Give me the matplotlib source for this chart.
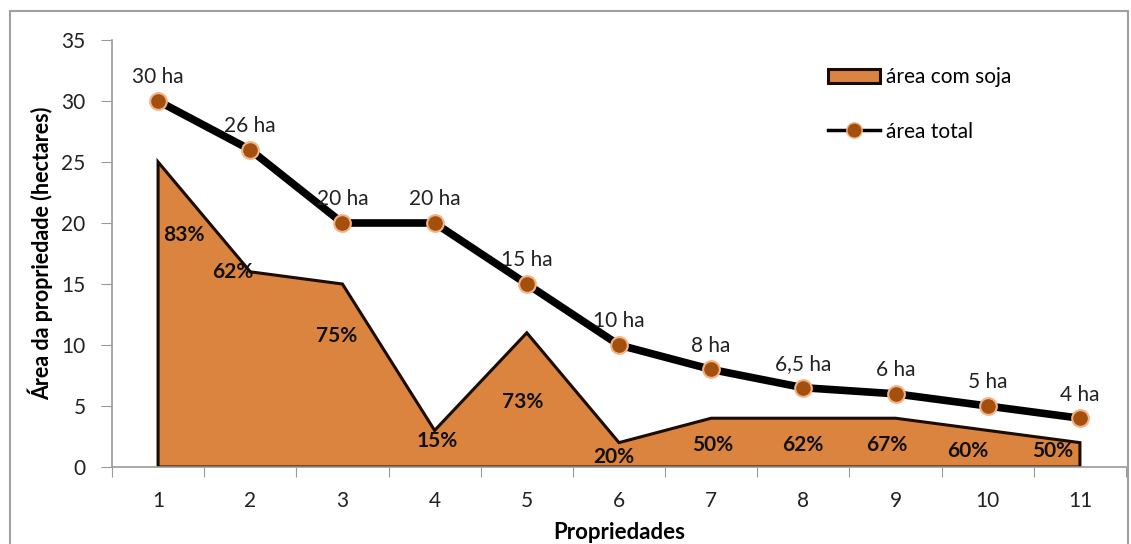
import matplotlib
matplotlib.use("Agg")
import matplotlib.pyplot as plt
from matplotlib.patches import Rectangle, Patch
from matplotlib.lines import Line2D

plt.rcParams['font.family'] = ['Lato', 'DejaVu Sans']

propriedades = [1, 2, 3, 4, 5, 6, 7, 8, 9, 10, 11]
area_total = [30, 26, 20, 20, 15, 10, 8, 6.5, 6, 5, 4]
area_soja = [25, 16, 15, 3, 11, 2, 4, 4, 4, 3, 2]
rotulos_total = ["30 ha", "26 ha", "20 ha", "20 ha", "15 ha", "10 ha", "8 ha",
                 "6,5 ha", "6 ha", "5 ha", "4 ha"]
rotulos_pct = ["83%", "62%", "75%", "15%", "73%", "20%", "50%", "62%", "67%", "60%", "50%"]
# onde o Excel colocou os rotulos de porcentagem
pct_x = [1.28, 1.81, 2.94, 4.03, 4.96, 5.94, 7.02, 7.99, 8.9, 9.78, 10.7]
pct_y = [19, 16, 10.7, 2.1, 5.3, 0.8, 1.8, 1.8, 1.8, 1.3, 1.3]

laranja = '#DA843F'
fs = 15

fig = plt.figure(figsize=(11.31, 5.44), dpi=100)
ax = fig.add_axes([0.099, 0.1415, 0.8966, 0.785])

# moldura cinza do grafico
fig.patches.append(Rectangle((10 / 1131, -0.05), 1118 / 1131, 1.05 - 11 / 544,
                             transform=fig.transFigure, fill=False,
                             edgecolor='#A0A0A0', linewidth=1.5))

xs = [propriedades[0]] + propriedades + [propriedades[-1]]
ys = [0] + area_soja + [0]
ax.fill(xs, ys, facecolor=laranja, edgecolor='#1a0d00', linewidth=2.2, zorder=2)

ax.plot(propriedades, area_total, color='black', linewidth=5.5, zorder=3,
        marker='o', markersize=12, markerfacecolor='#A3500F',
        markeredgecolor='#F4B183', markeredgewidth=1.5)

for x, y, t in zip(propriedades, area_total, rotulos_total):
    ax.annotate(t, (x, y), xytext=(0, 17), textcoords='offset points',
                ha='center', va='center', fontsize=fs, color='#222222', zorder=4)

for x, y, t in zip(pct_x, pct_y, rotulos_pct):
    ax.text(x, y, t, ha='center', va='center', fontsize=fs, fontweight='bold',
            color='#111111', zorder=4)

ax.set_xlim(0.5, 11.5)
ax.set_ylim(0, 35)
ax.set_yticks(range(0, 36, 5))
ax.set_xticks([p - 0.5 for p in propriedades] + [11.5])
ax.set_xticklabels([])
ax.set_xticks(propriedades, minor=True)
ax.set_xticklabels([str(p) for p in propriedades], minor=True)
ax.tick_params(axis='x', which='minor', length=0, pad=17, labelsize=fs, labelcolor='#222222')
ax.tick_params(axis='x', which='major', length=7, color='#999999', direction='out')
ax.tick_params(axis='y', length=8, color='#999999', labelsize=fs, labelcolor='#222222', pad=11)

for s in ['top', 'right']:
    ax.spines[s].set_visible(False)
for s in ['left', 'bottom']:
    ax.spines[s].set_color('#999999')
    ax.spines[s].set_linewidth(1.2)

ax.set_ylabel('Área da propriedade (hectares)', fontsize=15.5, fontweight='bold', labelpad=6)
ax.set_xlabel('Propriedades', fontsize=16, fontweight='bold', labelpad=8)

handles = [Patch(facecolor=laranja, edgecolor='#1a0d00', linewidth=2.2),
           Line2D([0], [0], color='black', linewidth=2.5, marker='o', markersize=11,
                  markerfacecolor='#A3500F', markeredgecolor='#F4B183')]
ax.legend(handles, ['área com soja', 'área total'], loc='upper left',
          bbox_to_anchor=(0.688, 0.98), frameon=False, fontsize=fs,
          handlelength=2.5, handletextpad=0.25, labelspacing=1.65)

fig.savefig('out.png', dpi=100)
